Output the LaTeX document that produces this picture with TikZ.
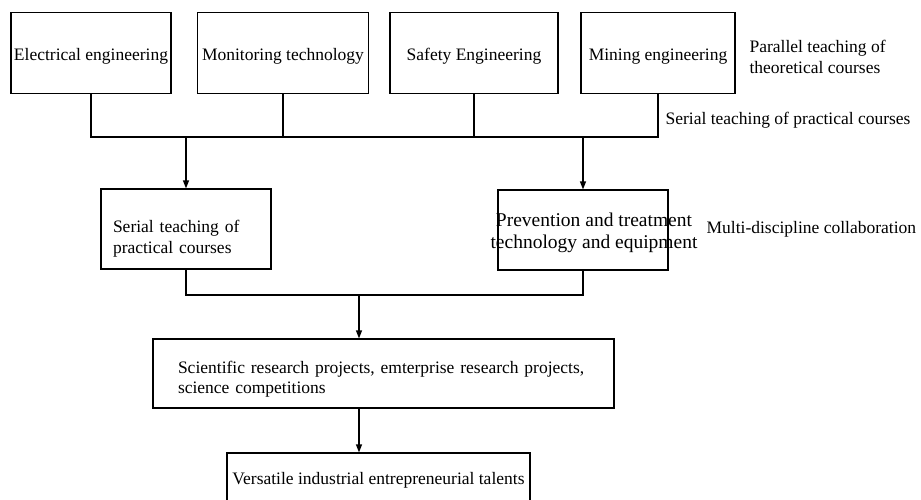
\documentclass[tikz,border=0pt]{standalone}
\usepackage{fontspec}
\setmainfont{Liberation Serif}
\usetikzlibrary{arrows.meta}
\usetikzlibrary{positioning}

\tikzset{
    box/.style={draw, minimum height=81pt, inner sep=0pt},
    arr/.style={-{Triangle[length=8pt,width=6pt]}},
    lbl/.style={anchor=west, align=left, inner sep=0pt},
}

\begin{document}
\begin{tikzpicture}[x=1pt, y=-1pt, font=\fontsize{17.5}{20.5}\selectfont, line width=1.2pt]
    \useasboundingbox (0,0) rectangle (921,499);
    % obere Reihe: Fachrichtungen
    \foreach \n/\x/\w/\t in {elec/91/160/Electrical engineering, moni/283/171/Monitoring technology, safe/474/168/Safety Engineering, mini/658/154/Mining engineering} {
        \node[box, minimum width=\w pt, text height=14pt, text depth=0pt] (\n) at (\x,53) {\t};
    }
    % Beschriftungen rechts
    \node[lbl] (partxt) at (749,57) {Parallel teaching of\\theoretical courses};
    \node[lbl] (sertxt) at (665,120) {Serial teaching of practical courses};
    \node[lbl] (multxt) at (706,229) {Multi-discipline collaboration};
    % mittlere Reihe
    \node[box, minimum width=170pt, minimum height=80pt, text width=146pt, align=left, inner xsep=12pt, text height=32pt] (ser) at (186,229) {Serial teaching of\\practical courses};
    \node[box, minimum width=170pt, minimum height=80pt] (prev) at (583,230) {};
    \node[align=center, inner sep=0pt, font=\fontsize{19.5}{22}\selectfont] (prevtxt) at (594,233) {Prevention and treatment\\technology and equipment};
    % untere Reihe
    \node[box, minimum width=461pt, minimum height=69pt, text width=411pt, align=left, inner xsep=25pt, text height=23.5pt] (sci) at (383.5,373.5) {Scientific research projects, emterprise research projects,\\science competitions};
    \node[box, minimum width=303pt, minimum height=54pt] (talent) at (378.5,480) {Versatile industrial entrepreneurial talents};
    % Verbindungen
    \coordinate (bus) at (360,137);
    \coordinate (join) at (359,295);
    \draw (elec.south) |- (mini.south |- bus) -- (mini.south);
    \foreach \n in {moni, safe} {
        \draw (\n.south) -- (\n.south |- bus); % Abzweig zur Sammelleitung
    }
    \draw[arr] (ser.north |- bus) -- (ser.north);
    \draw[arr] (prev.north |- bus) -- (prev.north);
    \draw (ser.south) |- (join) -| (prev.south);
    \draw[arr] (join) -- (join |- sci.north);
    \draw[arr] (join |- sci.south) -- (join |- talent.north);
\end{tikzpicture}
\end{document}
